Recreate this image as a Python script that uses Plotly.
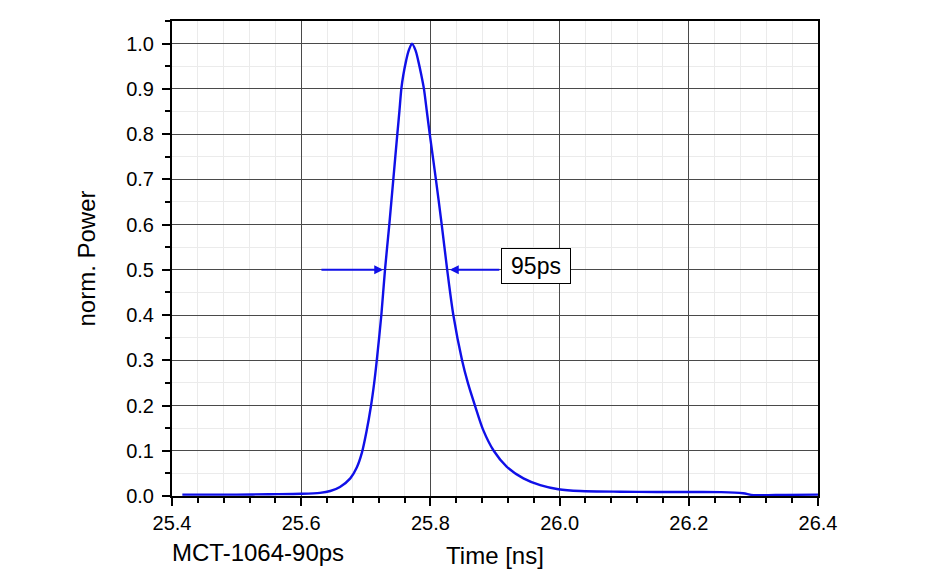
import plotly.graph_objects as go

# ---- data ----
time_ns = [25.416, 25.45, 25.50, 25.55, 25.60, 25.629, 25.645, 25.660, 25.676, 25.686,
           25.694, 25.701, 25.708, 25.713, 25.717, 25.724, 25.7297, 25.7364, 25.7426, 25.7488,
           25.752, 25.755, 25.758, 25.7625, 25.7665, 25.7715, 25.777, 25.781, 25.786, 25.790,
           25.7945, 25.799, 25.8085, 25.8175, 25.826, 25.8355, 25.849, 25.858, 25.869, 25.882,
           25.898, 25.918, 25.944, 25.970, 25.998, 26.032, 26.094, 26.15, 26.20, 26.25,
           26.284, 26.30, 26.35, 26.40]
norm_power = [0.003, 0.003, 0.003, 0.004, 0.005, 0.007, 0.011, 0.020, 0.039, 0.063,
              0.096, 0.142, 0.199, 0.250, 0.300, 0.399, 0.500, 0.600, 0.700, 0.800,
              0.850, 0.900, 0.930, 0.963, 0.985, 1.000, 0.985, 0.963, 0.930, 0.900,
              0.850, 0.800, 0.700, 0.600, 0.500, 0.400, 0.300, 0.250, 0.200, 0.145,
              0.100, 0.065, 0.039, 0.024, 0.015, 0.011, 0.0095, 0.009, 0.0088, 0.0085,
              0.006, 0.002, 0.0025, 0.003]

x_ticks = [25.4, 25.6, 25.8, 26.0, 26.2, 26.4]
y_ticks = [0.0, 0.1, 0.2, 0.3, 0.4, 0.5, 0.6, 0.7, 0.8, 0.9, 1.0]

fwhm_level = 0.5
left_arrow_tail, left_arrow_head = 25.629, 25.727
right_arrow_tail, right_arrow_head = 25.909, 25.830
fwhm_label = "95ps"
fwhm_label_x, fwhm_label_y = 25.963, 0.509
sample_label = "MCT-1064-90ps"

FONT = "Arial, Liberation Sans, sans-serif"
BLUE = "#1010e8"

fig = go.Figure()
fig.add_trace(go.Scatter(x=time_ns, y=norm_power, mode="lines",
                         line=dict(color=BLUE, width=2.4, shape="spline", smoothing=0.8),
                         showlegend=False, hoverinfo="x+y"))

axis_common = dict(
    showline=True, linecolor="black", linewidth=2, mirror=True,
    ticks="outside", ticklen=8, tickwidth=2, tickcolor="black",
    showgrid=True, gridcolor="#4a4a4a", gridwidth=1,
    zeroline=False,
    tickfont=dict(family=FONT, size=20, color="black"),
)

fig.update_xaxes(
    range=[25.4, 26.4], tickvals=x_ticks, ticktext=[f"{v:.1f}" for v in x_ticks],
    minor=dict(dtick=0.04, tick0=25.4, ticks="outside", ticklen=5, tickwidth=2,
               tickcolor="black", showgrid=True, gridcolor="#ebebeb", gridwidth=1),
    title=dict(text="Time [ns]", font=dict(family=FONT, size=24, color="black"), standoff=14),
    ticklabelstandoff=0,
    **axis_common,
)
fig.update_yaxes(
    range=[0, 1.05], tickvals=y_ticks, ticktext=[f"{v:.1f}" for v in y_ticks],
    minor=dict(dtick=0.05, tick0=0, ticks="outside", ticklen=5, tickwidth=2,
               tickcolor="black", showgrid=True, gridcolor="#ebebeb", gridwidth=1),
    title=dict(text="norm. Power", font=dict(family=FONT, size=24, color="black"), standoff=24),
    ticklabelstandoff=4,
    **axis_common,
)

annotations = [
    dict(x=left_arrow_head, y=fwhm_level, ax=left_arrow_tail, ay=fwhm_level,
         xref="x", yref="y", axref="x", ayref="y", text="", showarrow=True,
         arrowhead=2, arrowsize=0.9, arrowwidth=2, arrowcolor=BLUE, standoff=0),
    dict(x=right_arrow_head, y=fwhm_level, ax=right_arrow_tail, ay=fwhm_level,
         xref="x", yref="y", axref="x", ayref="y", text="", showarrow=True,
         arrowhead=2, arrowsize=0.9, arrowwidth=2, arrowcolor=BLUE, standoff=0),
    dict(x=fwhm_label_x, y=fwhm_label_y, xref="x", yref="y", text=fwhm_label,
         showarrow=False, font=dict(family=FONT, size=23, color="black"),
         bgcolor="white", bordercolor="black", borderwidth=1, borderpad=4,
         width=60, height=26),
    dict(x=-0.003, y=-0.1195, xref="paper", yref="paper", text=sample_label,
         showarrow=False, xanchor="left", yanchor="middle",
         font=dict(family=FONT, size=24, color="black")),
]
fig.update_layout(
    width=950, height=578,
    margin=dict(l=164, r=140, t=11, b=90),
    paper_bgcolor="white", plot_bgcolor="white",
    annotations=annotations,
    font=dict(family=FONT, color="black"),
)

fig.write_html("out.html")
